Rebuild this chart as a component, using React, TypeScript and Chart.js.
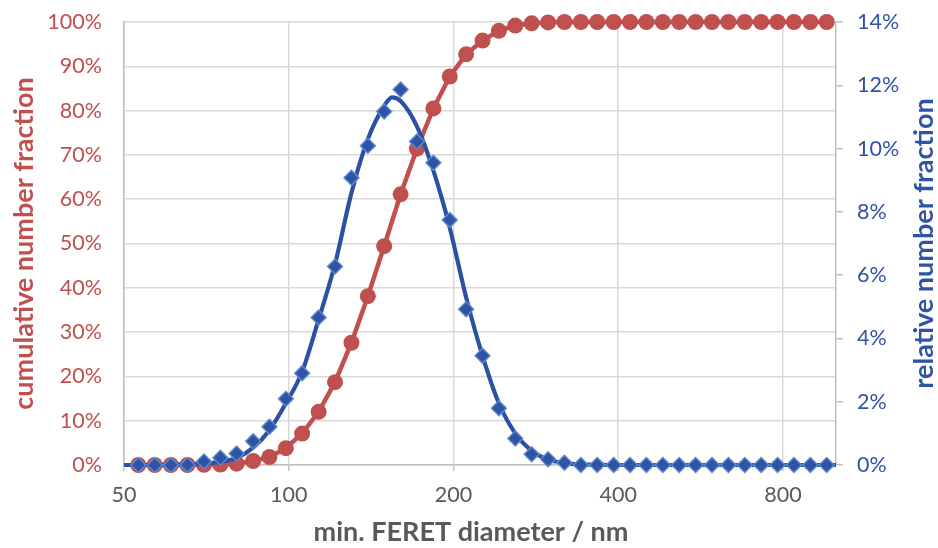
import { useEffect, useRef } from "react";
import { Chart, registerables } from "chart.js";

Chart.register(...registerables);

// min. FERET diameter (nm) of each measured class
const sizes = [
  53.1, 56.9, 60.9, 65.3, 70.0, 75.0, 80.3, 86.1, 92.2, 98.8, 105.8, 113.4, 121.5, 130.2, 139.5,
  149.4, 160.1, 171.5, 183.8, 196.9, 210.9, 226.0, 242.1, 259.4, 277.9, 297.8, 319.0, 341.8,
  366.2, 392.4, 420.4, 450.4, 482.6, 517.0, 553.9, 593.5, 635.9, 681.3, 729.9, 782.0, 837.8,
  897.7, 961.7,
];

// cumulative number fraction (%)
const cumulative = [
  0, 0, 0, 0, 0.05, 0.1, 0.3, 0.9, 1.8, 3.8, 7.1, 12.0, 18.7, 27.6, 38.1, 49.4, 61.1, 71.4,
  80.5, 87.7, 92.7, 95.8, 98.0, 99.2, 99.7, 99.9, 100, 100, 100, 100, 100, 100, 100, 100, 100,
  100, 100, 100, 100, 100, 100, 100, 100,
];

// relative number fraction (%)
const relative = [
  0, 0, 0, 0, 0.11, 0.23, 0.36, 0.75, 1.21, 2.09, 2.9, 4.66, 6.27, 9.08, 10.09, 11.17, 11.87,
  10.22, 9.55, 7.74, 4.92, 3.45, 1.79, 0.84, 0.34, 0.18, 0.07, 0, 0, 0, 0, 0, 0, 0, 0, 0, 0, 0,
  0, 0, 0, 0, 0,
];

// fitted distribution curve (relative number fraction, %)
const fitSizes = [
  50, 53.1, 56.9, 60.9, 65.3, 70.0, 75.0, 80.3, 86.1, 92.2, 98.8, 105.8, 113.4, 121.5, 130.2,
  139.5, 149.4, 154.4, 160.1, 171.5, 183.8, 196.9, 210.9, 226.0, 242.1, 259.4, 277.9, 297.8,
  319.0, 341.8, 366.2, 392.4, 420.4, 450.4, 482.6, 517.0, 553.9, 593.5, 635.9, 681.3, 729.9,
  782.0, 837.8, 897.7, 961.7, 1000,
];
const fitValues = [
  0, 0, 0, 0.01, 0.02, 0.04, 0.1, 0.22, 0.55, 1.1, 1.95, 2.95, 4.6, 6.35, 8.6, 10.3, 11.35,
  11.62, 11.5, 10.7, 9.3, 7.5, 5.3, 3.45, 1.95, 1.0, 0.45, 0.17, 0.06, 0.02, 0.01, 0, 0, 0, 0,
  0, 0, 0, 0, 0, 0, 0, 0, 0, 0, 0,
];

const xTicks = [50, 100, 200, 400, 800];

const RED = "#C0504D";
const BLUE = "#2F54A5";
const FONT = "Lato, 'Noto Sans', sans-serif";

const titlesPlugin = {
  id: "axisTitles",
  afterDraw(chart: any) {
    const ctx = chart.ctx;
    const area = chart.chartArea;
    const cy = (area.top + area.bottom) / 2;
    ctx.save();
    ctx.textAlign = "center";
    ctx.textBaseline = "middle";
    ctx.font = `bold 27px ${FONT}`;
    // left title
    ctx.save();
    ctx.translate(24, cy);
    ctx.rotate(-Math.PI / 2);
    ctx.fillStyle = RED;
    ctx.fillText("cumulative number fraction", 0, 0);
    ctx.restore();
    // right title
    ctx.save();
    ctx.translate(924, cy);
    ctx.rotate(-Math.PI / 2);
    ctx.fillStyle = BLUE;
    ctx.fillText("relative number fraction", 0, 0);
    ctx.restore();
    // bottom title
    ctx.fillStyle = "#595959";
    ctx.fillText("min. FERET diameter / nm", 471, 532);
    ctx.restore();
  },
};

const noPadV = (scale: any, w: number) => {
  scale.width = w;
  scale.paddingTop = 0;
  scale.paddingBottom = 0;
};

export default function App() {
  const ref = useRef<HTMLCanvasElement | null>(null);

  useEffect(() => {
    document.body.style.margin = "0";
    const canvas = ref.current;
    if (!canvas) return;
    const chart = new Chart(canvas, {
      type: "scatter",
      data: {
        datasets: [
          {
            label: "relative",
            data: sizes.map((x, i) => ({ x, y: relative[i] })),
            yAxisID: "y2",
            showLine: false,
            pointStyle: "rectRot",
            pointRadius: 7.5,
            backgroundColor: BLUE,
            borderColor: "#5B8BD2",
            borderWidth: 1.4,
            clip: false,
          } as any,
          {
            label: "fit",
            data: fitSizes.map((x, i) => ({ x, y: fitValues[i] })),
            yAxisID: "y2",
            showLine: true,
            pointRadius: 0,
            borderColor: "#2D50A6",
            borderWidth: 4.2,
            cubicInterpolationMode: "monotone",
            clip: false,
          } as any,
          {
            label: "cumulative",
            data: sizes.map((x, i) => ({ x, y: cumulative[i] })),
            yAxisID: "y",
            showLine: true,
            borderColor: RED,
            borderWidth: 4.5,
            pointRadius: 8,
            pointBackgroundColor: RED,
            pointBorderColor: RED,
            pointBorderWidth: 0,
            backgroundColor: RED,
            tension: 0,
            clip: false,
          } as any,
        ],
      },
      options: {
        animation: false,
        responsive: true,
        maintainAspectRatio: false,
        layout: { padding: { top: 22, left: 0, right: 0, bottom: 0 } },
        plugins: { legend: { display: false }, tooltip: { enabled: false } },
        scales: {
          x: {
            type: "logarithmic",
            min: 50,
            max: 1000,
            afterBuildTicks: (scale: any) => {
              scale.ticks = xTicks.map((v) => ({ value: v }));
            },
            afterFit: (scale: any) => {
              scale.height = 83;
              scale.paddingLeft = 0;
              scale.paddingRight = 0;
            },
            grid: {
              color: "#D9D9D9",
              lineWidth: 1.5,
              drawTicks: true,
              tickLength: 6,
              tickColor: "#BFBFBF",
            },
            border: { color: "#BFBFBF", width: 1.5 },
            ticks: {
              callback: (v: any) => String(v),
              color: "#595959",
              font: { family: FONT, size: 21.5 },
              padding: 11,
              maxRotation: 0,
              autoSkip: false,
            },
          },
          y: {
            position: "left",
            min: 0,
            max: 100,
            afterFit: (scale: any) => noPadV(scale, 124),
            grid: { color: "#D9D9D9", lineWidth: 1.5, drawTicks: false },
            border: { color: "#BFBFBF", width: 1.5 },
            ticks: {
              stepSize: 10,
              callback: (v: any) => v + "%",
              color: RED,
              font: { family: FONT, size: 21.5 },
              padding: 22,
            },
          },
          y2: {
            position: "right",
            min: 0,
            max: 14,
            afterFit: (scale: any) => noPadV(scale, 102),
            grid: {
              drawOnChartArea: false,
              drawTicks: true,
              tickLength: 7,
              color: "#BFBFBF",
              lineWidth: 1.5,
            },
            border: { color: "#BFBFBF", width: 1.5 },
            ticks: {
              stepSize: 2,
              callback: (v: any) => v + "%",
              color: BLUE,
              font: { family: FONT, size: 21.5 },
              padding: 14,
            },
          },
        },
      } as any,
      plugins: [titlesPlugin],
    });
    return () => chart.destroy();
  }, []);

  return (
    <div style={{ position: "absolute", left: 0, top: 0, width: 938, height: 548 }}>
      <canvas ref={ref} />
    </div>
  );
}
